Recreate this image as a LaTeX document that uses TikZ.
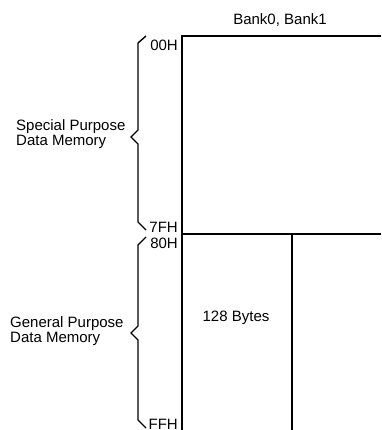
\documentclass[tikz,border=0pt]{standalone}
\usepackage{fontspec}
\setmainfont{Liberation Sans}
\begin{document}
\begin{tikzpicture}[x=1pt,y=-1pt,
  lbl/.style={inner sep=0pt,font=\fontsize{15}{16}\selectfont},
  wall/.style={line width=1.7pt},
  brace/.style={line width=1.4pt}]
\useasboundingbox[fill=white] (0,0) rectangle (381,430);
% memory map
\draw[wall] (381,36) -- (182,36) -- (182,430);
\draw[wall] (182,234) -- (381,234);
\draw[wall] (292,234) -- (292,430);
% braces
\draw[brace] (146,36) -- (138,43) -- (138,130) -- (131,137) -- (138,144) -- (138,222) -- (146,230);
\draw[brace] (146,237) -- (138,245) -- (138,326) -- (131,333) -- (138,340) -- (138,420) -- (146,428);
% labels
\node[lbl] (bank) at (280,20) {Bank0, Bank1};
\node[lbl,anchor=east] (a00) at (178,45) {00H};
\node[lbl,anchor=east] (a7f) at (178,227) {7FH};
\node[lbl,anchor=east] (a80) at (178,243) {80H};
\node[lbl,anchor=east] (aff) at (178,424) {FFH};
\node[lbl,anchor=west,align=left] (spec) at (16,134) {Special Purpose\\[-1pt]Data Memory};
\node[lbl,anchor=west,align=left] (gen) at (10,331) {General Purpose\\[-1pt]Data Memory};
\node[lbl] (bytes) at (236,318) {128 Bytes};
\end{tikzpicture}
\end{document}
